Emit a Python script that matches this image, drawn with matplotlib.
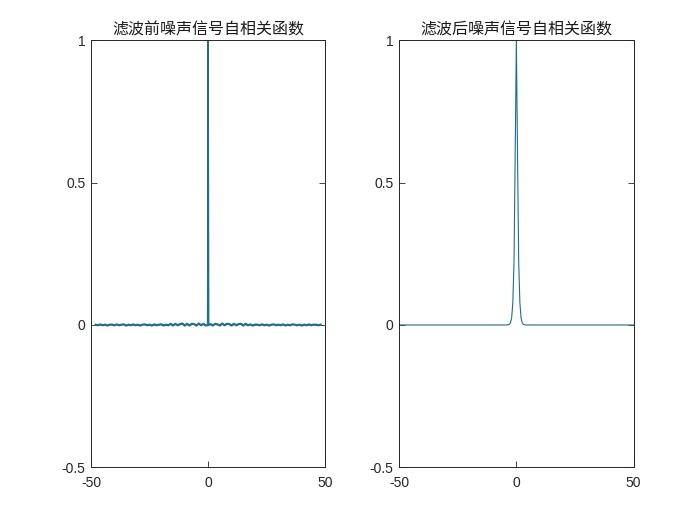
import matplotlib
matplotlib.use("Agg")
import matplotlib.pyplot as plt

plt.rcParams['font.family'] = ['Noto Sans CJK SC', 'DejaVu Sans']
plt.rcParams['axes.unicode_minus'] = False

# autocorrelation before filtering: small noise around a unit spike at lag 0
before_neg = [0.001, -0.001, 0.002, -0.001, 0.001, -0.002, 0.001, 0.001,
              -0.001, 0.002, -0.001, 0.001, 0.002, -0.002, 0.001, -0.001,
              0.002, -0.001, 0.001, -0.002, 0.001, 0.002, -0.001, 0.001,
              -0.002, 0.002, -0.001, 0.001, 0.002, -0.002, 0.001, -0.001,
              0.004, -0.002, 0.004, -0.001, 0.003, 0.005, -0.002, 0.004,
              -0.002, 0.004, 0.003, -0.002, 0.005, -0.001, 0.004, -0.002]
before_pos = [0.003, -0.002, 0.004, 0.002, -0.002, 0.005, -0.001, 0.004,
              0.003, -0.002, 0.004, -0.001, 0.003, 0.004, -0.002, 0.004,
              -0.001, 0.002, -0.002, 0.001, 0.001, -0.001, 0.002, -0.001,
              0.001, -0.002, 0.001, 0.002, -0.001, 0.001, -0.001, 0.002,
              -0.002, 0.001, -0.001, 0.002, 0.001, -0.001, 0.001, -0.002,
              0.001, -0.001, 0.002, -0.001, 0.001, 0.001, -0.001, 0.001]
before_lags = list(range(-48, 0)) + [0] + list(range(1, 49))
before_vals = before_neg + [0.0] + before_pos
spike_lags = [-0.25, 0, 0.25]
spike_vals = [0.0, 1.0, 0.0]

# autocorrelation after filtering: narrow peak
after_lags = [-50, -4, -3, -2.5, -2, -1.5, -1, -0.5, 0, 0.5, 1, 1.5, 2, 2.5, 3, 4, 50]
after_vals = [0, 0, 0.002, 0.008, 0.025, 0.08, 0.22, 0.6, 1.0,
              0.6, 0.22, 0.08, 0.025, 0.008, 0.002, 0, 0]

titles = ['滤波前噪声信号自相关函数', '滤波后噪声信号自相关函数']
yticks = [-0.5, 0, 0.5, 1]
ylabels = ['-0.5', '0', '0.5', '1']
xticks = [-50, 0, 50]
xlabels = ['-50', '0', '50']

line_color = '#1f6e8e'
ax_color = '#262626'

fig = plt.figure(figsize=(7, 5.25), dpi=100)
ax1 = fig.add_axes([0.13, 0.11, 0.3347, 0.813])
ax2 = fig.add_axes([0.5703, 0.11, 0.3347, 0.813])

ax1.plot(before_lags, before_vals, color=line_color, lw=1.6)
ax1.plot(spike_lags, spike_vals, color=line_color, lw=1.0)
ax2.plot(after_lags, after_vals, color=line_color, lw=0.8)

for ax, t in zip([ax1, ax2], titles):
    ax.set_xlim(-50, 50)
    ax.set_ylim(-0.5, 1)
    ax.set_xticks(xticks)
    ax.set_xticklabels(xlabels, family=['Liberation Sans', 'DejaVu Sans'])
    ax.set_yticks(yticks)
    ax.set_yticklabels(ylabels, family=['Liberation Sans', 'DejaVu Sans'])
    ax.tick_params(direction='in', length=4, width=0.6, labelsize=10,
                   colors=ax_color, top=True, right=True)
    ax.tick_params(axis='x', pad=6)
    ax.tick_params(axis='y', pad=4)
    for s in ax.spines.values():
        s.set_color(ax_color)
        s.set_linewidth(0.7)
    ax.set_title(t, fontsize=11.5, color='#1a1a1a', pad=4)

fig.savefig('out.png', dpi=100)
